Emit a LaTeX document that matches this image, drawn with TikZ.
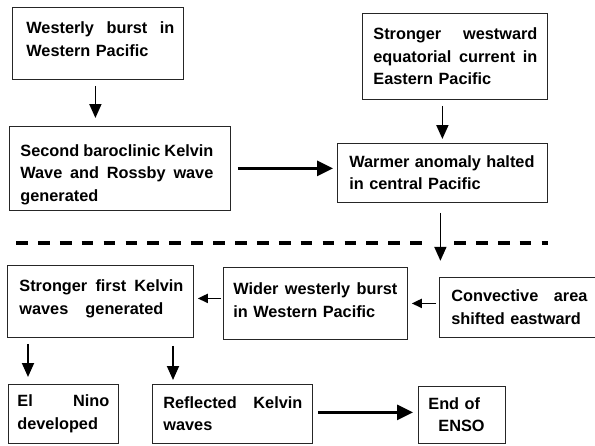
\documentclass[tikz,border=0pt]{standalone}
\usepackage{fontspec}
\setmainfont{Liberation Sans}
\usepackage{tikz}
\usetikzlibrary{arrows.meta,positioning,calc}

\newcommand{\spreadline}[2]{{\spaceskip=0pt\xspaceskip=0pt\makebox[#1][s]{#2}}}
\newcommand{\liftlines}[2]{\raisebox{#1}[\height][\depth]{\parbox{\hsize}{#2}}}

\begin{document}
\begin{tikzpicture}[
  x=1pt, y=-1pt,
  stepbox/.style={draw=black!85, line width=0.8pt, rectangle, anchor=north west,
                  align=left, inner ysep=0pt,
                  font=\fontsize{16.3}{22.5}\selectfont\bfseries},
  arr/.style={-{Triangle[length=14pt,width=12pt]}, line width=1.8pt},
  smallarr/.style={-{Triangle[length=10pt,width=9pt]}, line width=1.8pt},
  bigarr/.style={-{Triangle[length=16pt,width=15pt]}, line width=2.8pt},
  sepline/.style={line width=3.2pt, dash pattern=on 11.7pt off 10.2pt}
]
\useasboundingbox (0,0) rectangle (595,445);

% ===== upper half =====
\node[stepbox, minimum width=171pt, minimum height=72pt, text width=143pt]
  (burst) at (12,7)
  {\liftlines{4pt}{\spreadline{148pt}{Westerly burst in}\\Western Pacific}};
\node[stepbox, minimum width=221pt, minimum height=84pt, text width=199pt]
  (kelvin) at (9,126)
  {\liftlines{-6pt}{\spreadline{193pt}{Second baroclinic Kelvin}\\
   \spreadline{193pt}{Wave and Rossby wave}\\generated}};
\node[stepbox, minimum width=185pt, minimum height=86pt, text width=163pt]
  (current) at (362,13)
  {\spreadline{164pt}{Stronger westward}\\
   \spreadline{164pt}{equatorial current in}\\Eastern Pacific};
\node[stepbox, minimum width=210pt, minimum height=59pt, text width=186pt]
  (warmer) at (337,143)
  {Warmer anomaly halted\\in central Pacific};

\draw[arr, shorten <=6pt, shorten >=8pt]
  ([xshift=-2.5pt]burst.south) -- ([xshift=-2.5pt]burst.south |- kelvin.north);
\draw[bigarr, shorten <=7pt, shorten >=4pt]
  (kelvin.east) -- (kelvin.east -| warmer.west);
\draw[arr, shorten <=6pt, shorten >=4pt]
  (warmer.north |- current.south) -- (warmer.north);
\coordinate (drop) at ([yshift=-58pt]warmer.south);
\draw[arr, shorten <=10pt] ([xshift=-2pt]warmer.south) -- ([xshift=-2pt]drop);

% ===== separator (broken round the arrow) =====
\draw[sepline] (16,243) -- (425,243);
\draw[sepline] (454,243) -- (548,243);

% ===== lower half =====
\node[stepbox, minimum width=186pt, minimum height=72pt, text width=162pt]
  (strongfirst) at (7,265)
  {\liftlines{2.5pt}{\spreadline{164pt}{Stronger first Kelvin}\\
   \spreadline{144pt}{waves generated}}};
\node[stepbox, minimum width=184pt, minimum height=72pt, text width=164pt]
  (wider) at (223,267)
  {\liftlines{3pt}{\spreadline{164pt}{Wider westerly burst}\\in Western Pacific}};
\node[stepbox, minimum width=160pt, minimum height=60pt, text width=136pt]
  (convective) at (439,277)
  {\spreadline{136pt}{Convective area}\\shifted eastward};
\node[stepbox, minimum width=110pt, minimum height=59pt, text width=92pt]
  (elnino) at (8,384)
  {\spreadline{92pt}{El Nino}\\developed};
\node[stepbox, minimum width=160pt, minimum height=59pt, text width=138pt]
  (reflected) at (152,384)
  {\spreadline{139pt}{Reflected Kelvin}\\waves};
\node[stepbox, minimum width=87pt, minimum height=57pt, text width=67pt]
  (enso) at (418,386)
  {End of\\\hspace*{10pt}ENSO};

\draw[smallarr, shorten <=2pt, shorten >=4pt]
  ([yshift=5pt]wider.west) -- ([yshift=5pt]wider.west -| strongfirst.east);
\draw[smallarr, shorten <=3pt, shorten >=4pt]
  ([yshift=4pt]convective.west) -- ([yshift=4pt]convective.west -| wider.east);
\draw[arr, shorten <=6pt, shorten >=7pt]
  ([xshift=21pt]strongfirst.south west) -- ([xshift=21pt]strongfirst.south west |- elnino.north);
\draw[arr, shorten <=8pt, shorten >=4pt]
  ([xshift=21pt]reflected.north west |- strongfirst.south) -- ([xshift=21pt]reflected.north west);
\draw[bigarr, shorten <=5pt, shorten >=5pt]
  ([yshift=1.5pt]reflected.east) -- ([yshift=1.5pt]reflected.east -| enso.west);

\end{tikzpicture}
\end{document}
